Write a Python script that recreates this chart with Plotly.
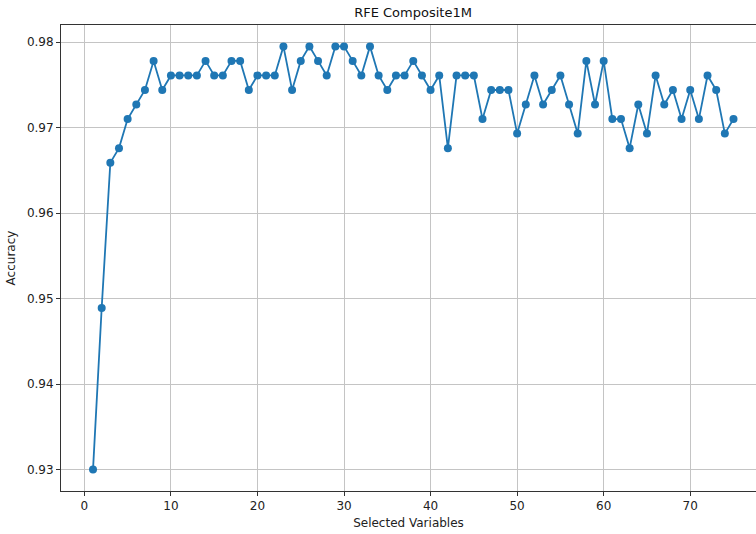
import plotly.graph_objects as go

selected_vars = list(range(1, 76))
accuracy = [
    0.9300, 0.9489, 0.9659, 0.9676, 0.9710, 0.9727, 0.9744, 0.9778, 0.9744, 0.9761,
    0.9761, 0.9761, 0.9761, 0.9778, 0.9761, 0.9761, 0.9778, 0.9778, 0.9744, 0.9761,
    0.9761, 0.9761, 0.9795, 0.9744, 0.9778, 0.9795, 0.9778, 0.9761, 0.9795, 0.9795,
    0.9778, 0.9761, 0.9795, 0.9761, 0.9744, 0.9761, 0.9761, 0.9778, 0.9761, 0.9744,
    0.9761, 0.9676, 0.9761, 0.9761, 0.9761, 0.9710, 0.9744, 0.9744, 0.9744, 0.9693,
    0.9727, 0.9761, 0.9727, 0.9744, 0.9761, 0.9727, 0.9693, 0.9778, 0.9727, 0.9778,
    0.9710, 0.9710, 0.9676, 0.9727, 0.9693, 0.9761, 0.9727, 0.9744, 0.9710, 0.9744,
    0.9710, 0.9761, 0.9744, 0.9693, 0.9710,
]
x_ticks = [0, 10, 20, 30, 40, 50, 60, 70]
y_ticks = [0.93, 0.94, 0.95, 0.96, 0.97, 0.98]

blue = "#1f77b4"
fig = go.Figure()
fig.add_trace(go.Scatter(
    x=selected_vars, y=accuracy, mode="lines+markers",
    line=dict(color=blue, width=1.8),
    marker=dict(color=blue, size=8),
    showlegend=False,
))

font = dict(family="DejaVu Sans", size=12, color="#222222")
fig.update_layout(
    width=756, height=534,
    margin=dict(l=61, r=0, t=25, b=43),
    paper_bgcolor="white", plot_bgcolor="white",
    font=font,
    title=dict(text="RFE Composite1M", x=0.5065, xref="paper", xanchor="center",
               y=1 - 12 / 534, yanchor="middle", font=dict(size=13, color="#111111")),
    xaxis=dict(
        range=[-2.7, 77.6], tickvals=x_ticks, ticks="outside", ticklen=4,
        tickcolor="#333333", showline=True, linecolor="#333333", linewidth=1,
        mirror=True, showgrid=True, gridcolor="#c4c4c4", gridwidth=1,
        zeroline=False,
        title=dict(text="Selected Variables", standoff=6, font=dict(size=12)),
    ),
    yaxis=dict(
        range=[0.9275, 0.982], tickvals=y_ticks, tickformat=".2f",
        ticks="outside", ticklen=4, tickcolor="#333333",
        showline=True, linecolor="#333333", linewidth=1, mirror=False,
        showgrid=True, gridcolor="#c4c4c4", gridwidth=1, zeroline=False,
        title=dict(text="Accuracy", standoff=8, font=dict(size=12)),
    ),
)
fig.write_html("out.html")
